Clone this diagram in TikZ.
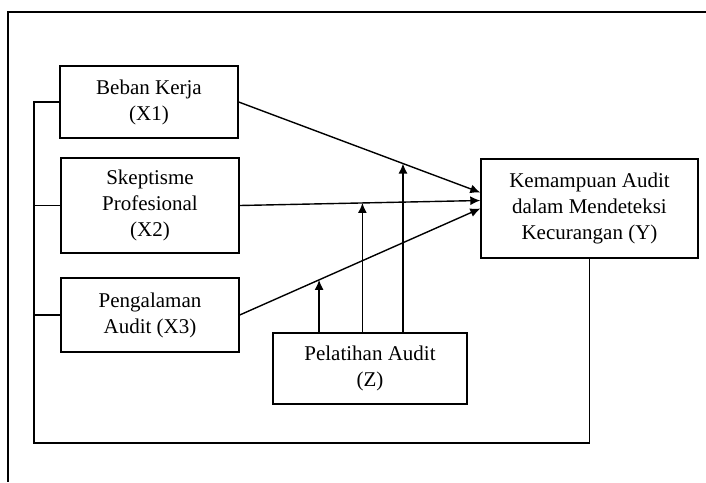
\documentclass[tikz,border=0pt]{standalone}
\usepackage{fontspec}
\setmainfont{Liberation Serif}
\usetikzlibrary{arrows.meta}

\begin{document}
\begin{tikzpicture}[x=1pt,y=-1pt,line width=1.4pt,
    var/.style={draw,align=center,inner sep=0pt,font=\fontsize{21}{26}\selectfont},
    >={Latex[length=10pt,width=9pt]}]
  \useasboundingbox (0,0) rectangle (706,482);
  \draw (706,12) -- (8,12) -- (8,482);

  \node[var,minimum width=178,minimum height=72] (x1) at (149,102)   {Beban Kerja\\(X1)};
  \node[var,minimum width=178,minimum height=95] (x2) at (150,205.5) {Skeptisme\\Profesional\\(X2)};
  \node[var,minimum width=178,minimum height=74] (x3) at (150,315)   {Pengalaman\\Audit (X3)};
  \node[var,minimum width=217,minimum height=99] (y)  at (589.5,208.5) {Kemampuan Audit\\dalam Mendeteksi\\Kecurangan (Y)};
  \node[var,minimum width=194,minimum height=71] (z)  at (370,368.5) {Pelatihan Audit\\(Z)};
  \coordinate (lb) at (34,443);

  \draw[->] (x1.east) to coordinate[pos=0.68] (m1) ([yshift=16pt]y.west);
  \draw[->] (x2.east) to coordinate[pos=0.51] (m2) ([yshift=8pt]y.west);
  \draw[->] (x3.east) to coordinate[pos=0.33] (m3) (y.west);

  \draw[->] (z.north -| m1) to (m1);
  \draw[->] (z.north -| m2) to (m2);
  \draw[->] (z.north -| m3) to (m3);

  \draw (x1.west) -| (lb) -| (y.south);
  \draw (x2.west) to (x2.west -| lb);
  \draw (x3.west) to (x3.west -| lb);
\end{tikzpicture}
\end{document}
